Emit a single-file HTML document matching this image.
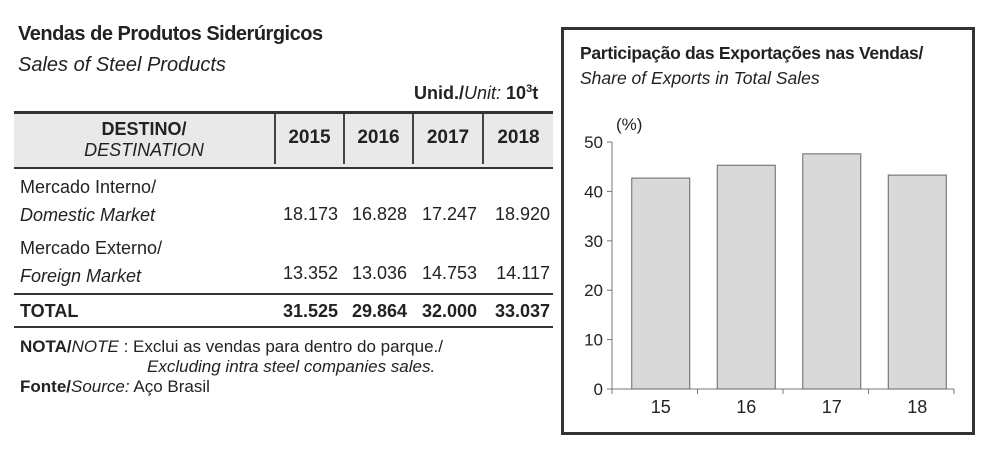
<!DOCTYPE html>
<html><head><meta charset="utf-8"><style>
body{margin:0;width:982px;height:452px;background:#fff;font-family:"Liberation Sans",sans-serif;color:#222;position:relative;overflow:hidden}
.a{position:absolute;white-space:nowrap}
.b{font-weight:bold}.i{font-style:italic}
.num{position:absolute;font-size:18px;text-align:right;width:66px}
</style></head><body>
<div class="a b" style="left:18px;top:23px;font-size:20px;letter-spacing:-0.5px">Vendas de Produtos Siderúrgicos</div>
<div class="a i" style="left:18px;top:54px;font-size:20px">Sales of Steel Products</div>
<div class="a" style="left:414px;top:83px;font-size:18px"><b>Unid./</b><i>Unit:</i> <b>10<sup style="font-size:11px">3</sup>t</b></div>
<div class="a" style="left:14px;top:111px;width:539px;height:53px;background:#e9e9e9;border-top:3px solid #333;border-bottom:2px solid #333"></div>
<div class="a" style="left:274px;top:114px;width:2px;height:50px;background:#444"></div>
<div class="a" style="left:343px;top:114px;width:2px;height:50px;background:#444"></div>
<div class="a" style="left:412px;top:114px;width:2px;height:50px;background:#444"></div>
<div class="a" style="left:482px;top:114px;width:2px;height:50px;background:#444"></div>
<div class="a" style="left:14px;top:119px;width:260px;text-align:center;font-size:18px;line-height:21px"><b>DESTINO/</b><br><i>DESTINATION</i></div>
<div class="a b" style="left:276px;top:127px;width:67px;text-align:center;font-size:19px">2015</div>
<div class="a b" style="left:345px;top:127px;width:67px;text-align:center;font-size:19px">2016</div>
<div class="a b" style="left:414px;top:127px;width:68px;text-align:center;font-size:19px">2017</div>
<div class="a b" style="left:484px;top:127px;width:69px;text-align:center;font-size:19px">2018</div>
<div class="a" style="left:20px;top:173px;font-size:18px;line-height:28px">Mercado Interno/<br><i>Domestic Market</i></div>
<div class="num" style="left:272px;top:204px">18.173</div><div class="num" style="left:341px;top:204px">16.828</div><div class="num" style="left:411px;top:204px">17.247</div><div class="num" style="left:484px;top:204px">18.920</div>
<div class="a" style="left:20px;top:234px;font-size:18px;line-height:28px">Mercado Externo/<br><i>Foreign Market</i></div>
<div class="num" style="left:272px;top:263px">13.352</div><div class="num" style="left:341px;top:263px">13.036</div><div class="num" style="left:411px;top:263px">14.753</div><div class="num" style="left:484px;top:263px">14.117</div>
<div class="a" style="left:14px;top:293px;width:539px;height:2px;background:#333"></div>
<div class="a b" style="left:20px;top:301px;font-size:18px">TOTAL</div>
<div class="num b" style="left:272px;top:301px">31.525</div><div class="num b" style="left:341px;top:301px">29.864</div><div class="num b" style="left:411px;top:301px">32.000</div><div class="num b" style="left:484px;top:301px">33.037</div>
<div class="a" style="left:14px;top:326px;width:539px;height:2px;background:#333"></div>
<div class="a" style="left:20px;top:337px;font-size:17px;line-height:20px"><b>NOTA/</b><i>NOTE</i> : Exclui as vendas para dentro do parque./<br><span style="padding-left:127px" class="i">Excluding intra steel companies sales.</span><br><b>Fonte/</b><i>Source:</i> Aço Brasil</div>
<div class="a" style="left:561px;top:27px;width:408px;height:402px;border:3px solid #333"></div>
<div class="a b" style="left:580px;top:43px;font-size:17.5px;letter-spacing:-0.3px">Participação das Exportações nas Vendas/</div>
<div class="a i" style="left:580px;top:68px;font-size:17.5px">Share of Exports in Total Sales</div>
<svg class="a" style="left:0;top:0" width="982" height="452">
<text x="616" y="130" font-size="17" fill="#222" font-family="Liberation Sans">(%)</text>
<g id="g"></g></svg>
<script>
const categories=["15","16","17","18"];
const values=[42.7,45.3,47.6,43.3];
const ticks=[0,10,20,30,40,50];
const g=document.getElementById('g');const NS="http://www.w3.org/2000/svg";
const x0=612,x1=954,y0=389,y50=142,off=6;
const y=v=>y0-(y0-y50)*v/50;const cw=(x1-x0)/categories.length;
function mk(t,a){const e=document.createElementNS(NS,t);for(const k in a)e.setAttribute(k,a[k]);g.appendChild(e);return e;}
mk('line',{x1:x0,y1:y50,x2:x0,y2:y0,stroke:'#777'});
mk('line',{x1:x0,y1:y0,x2:x1,y2:y0,stroke:'#777'});
ticks.forEach(t=>{mk('line',{x1:x0-5,y1:y(t),x2:x0,y2:y(t),stroke:'#777'});
const tx=mk('text',{x:x0-9,y:y(t)+6,'text-anchor':'end','font-size':17,fill:'#222','font-family':'Liberation Sans'});tx.textContent=t;

});
for(let i=0;i<=categories.length;i++)mk('line',{x1:x0+i*cw,y1:y0,x2:x0+i*cw,y2:y0+5,stroke:'#777'});
categories.forEach((c,i)=>{const cx=x0+cw*(i+0.5)+off;
const r=mk('rect',{x:cx-29,y:y(values[i]),width:58,height:y0-y(values[i]),fill:'#d9d9da',stroke:'#666'});


const t=mk('text',{x:cx,y:y0+24,'text-anchor':'middle','font-size':18,fill:'#222','font-family':'Liberation Sans'});t.textContent=c;

});
</script>
</body></html>
